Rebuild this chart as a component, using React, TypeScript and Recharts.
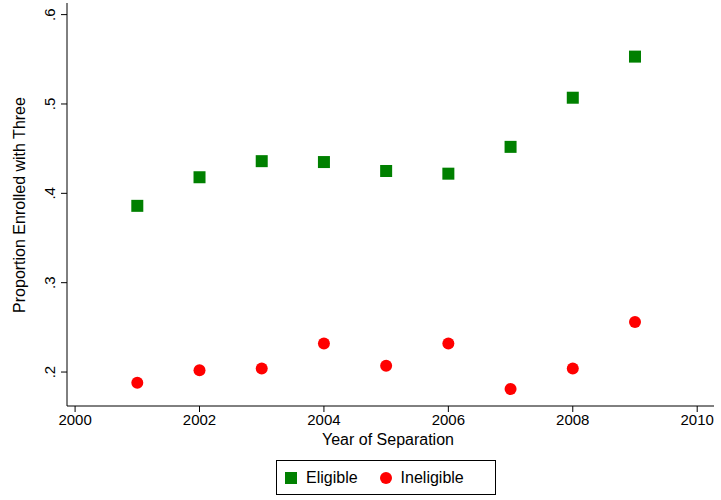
import React from "react";
import { ScatterChart, Scatter, XAxis, YAxis } from "recharts";

const years = [2001, 2002, 2003, 2004, 2005, 2006, 2007, 2008, 2009];
const eligible = [0.386, 0.418, 0.436, 0.435, 0.425, 0.422, 0.452, 0.507, 0.553];
const ineligible = [0.188, 0.202, 0.204, 0.232, 0.207, 0.232, 0.181, 0.204, 0.256];
const xTicks = [2000, 2002, 2004, 2006, 2008, 2010];
const yTicks = [0.2, 0.3, 0.4, 0.5, 0.6];

const eData = years.map((x, i) => ({ x, y: eligible[i] }));
const iData = years.map((x, i) => ({ x, y: ineligible[i] }));

const font = "Liberation Sans, Arial, sans-serif";

const YTick = (p: any) => {
  const { x, y, payload } = p;
  const label = String(payload.value).replace(/^0/, "");
  return (
    <text x={x - 4} y={y} transform={`rotate(-90 ${x - 4} ${y})`} textAnchor="middle" fontSize={15} fontFamily={font} fill="#000">
      {label}
    </text>
  );
};

const Square = (p: any) => <rect x={p.cx - 6} y={p.cy - 6} width={12} height={12} fill="#008000" />;
const Dot = (p: any) => <circle cx={p.cx} cy={p.cy} r={6} fill="#ff0000" />;

export default function App() {
  return (
    <div style={{ position: "absolute", left: 0, top: 0, width: 721, height: 500, background: "#fff", fontFamily: font }}>
      <ScatterChart width={721} height={500} margin={{ top: 3, right: 7, left: 0, bottom: 0 }}>
        <XAxis type="number" dataKey="x" domain={[1999.87, 2010.27]} ticks={xTicks} height={94}
          axisLine={{ stroke: "#000" }} tickLine={{ stroke: "#000" }} tickSize={6}
          tick={{ fontSize: 15, fill: "#000", fontFamily: font }} allowDataOverflow />
        <YAxis type="number" dataKey="y" domain={[0.162, 0.613]} ticks={yTicks} width={67}
          axisLine={{ stroke: "#000" }} tickLine={{ stroke: "#000" }} tickSize={6}
          tick={<YTick />} allowDataOverflow />
        <Scatter data={eData} shape={<Square />} isAnimationActive={false} />
        <Scatter data={iData} shape={<Dot />} isAnimationActive={false} />
        <text x={388} y={445} textAnchor="middle" fontSize={16} fontFamily={font}>Year of Separation</text>
        <text x={25} y={205} transform="rotate(-90 25 205)" textAnchor="middle" fontSize={16} fontFamily={font}>Proportion Enrolled with Three</text>
      </ScatterChart>
      <div style={{ position: "absolute", left: 276, top: 460, width: 220, height: 35, border: "1px solid #000", boxSizing: "border-box", display: "flex", alignItems: "center", fontSize: 16 }}>
        <span style={{ display: "inline-block", width: 12, height: 12, background: "#008000", marginLeft: 8 }} />
        <span style={{ marginLeft: 9 }}>Eligible</span>
        <span style={{ display: "inline-block", width: 12, height: 12, borderRadius: 6, background: "#ff0000", marginLeft: 22 }} />
        <span style={{ marginLeft: 9 }}>Ineligible</span>
      </div>
    </div>
  );
}
